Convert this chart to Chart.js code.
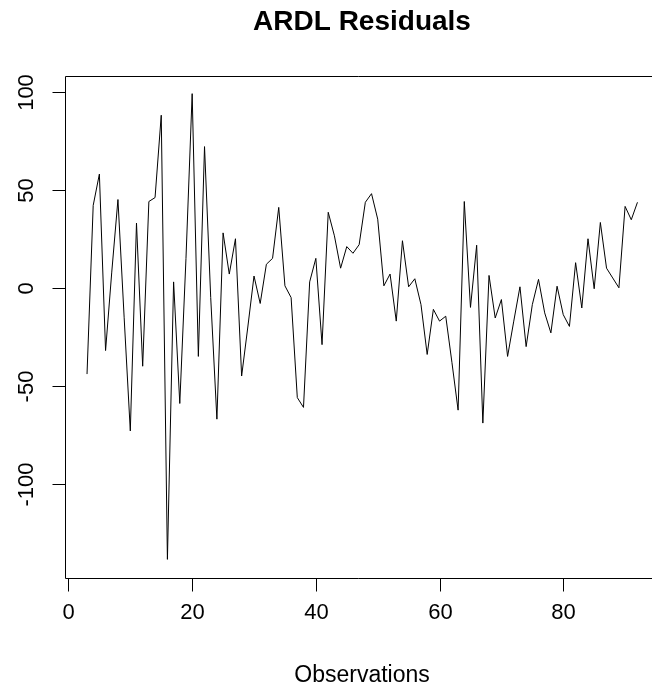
<!DOCTYPE html>
<html>
<head>
<meta charset="utf-8">
<script src="https://cdn.jsdelivr.net/npm/chart.js@4.4.0/dist/chart.umd.min.js"></script>
<style>
html, body { margin: 0; padding: 0; background: #fff; overflow: hidden; }
canvas { display: block; }
</style>
</head>
<body>
<canvas id="residChart" width="652" height="693"></canvas>
<script>
const observations = [
  3, 4, 5, 6, 7, 8, 9, 10, 11, 12, 13, 14, 15, 16, 17, 18, 19, 20, 21, 22,
  23, 24, 25, 26, 27, 28, 29, 30, 31, 32, 33, 34, 35, 36, 37, 38, 39, 40, 41, 42,
  43, 44, 45, 46, 47, 48, 49, 50, 51, 52, 53, 54, 55, 56, 57, 58, 59, 60, 61, 62,
  63, 64, 65, 66, 67, 68, 69, 70, 71, 72, 73, 74, 75, 76, 77, 78, 79, 80, 81, 82,
  83, 84, 85, 86, 87, 88, 89, 90, 91, 92
];
const residuals = [
  -44, 42, 58, -32, 8, 45, -15, -73, 33, -40, 44, 46, 88, -138.5, 3, -59, 15, 99, -35, 72,
  -5, -67, 28, 7, 25, -45, -20, 6, -8, 12, 15, 41, 1, -5, -56, -61, 3, 15, -29, 38.5,
  26.5, 10, 21, 17.6, 22, 43.6, 48, 35, 1, 7, -17, 24, 0.5, 4.6, -8.6, -34, -11, -17, -14.5, -38,
  -62.4, 44, -10, 21.7, -69, 6.3, -15.4, -6, -35, -17, 0.5, -30, -8.6, 4.3, -12.8, -23, 0.8, -13.7, -19.7, 12.8,
  -10.3, 25, -0.5, 33.3, 10, 5, 0, 41.5, 34.7, 43.6
];
const xTicks = [0, 20, 40, 60, 80];
const yTicks = [100, 50, 0, -50, -100];
const chartTitle = "ARDL Residuals";
const xAxisTitle = "Observations";

const fontFam = '"Liberation Sans", Arial, sans-serif';

// R-style frame, detached ticks and rotated y labels
const rAxes = {
  id: 'rAxes',
  afterDraw(chart) {
    const ctx = chart.ctx;
    const a = chart.chartArea;
    const xs = chart.scales.x, ys = chart.scales.y;
    const left = Math.round(a.left) + 0.5;
    const top = Math.round(a.top) + 0.5;
    const bottom = Math.round(a.bottom) + 0.5;
    const tick = 13;

    ctx.save();
    ctx.strokeStyle = '#000';
    ctx.lineWidth = 1;

    // box, the right side runs off the canvas
    ctx.beginPath();
    ctx.moveTo(chart.width, top);
    ctx.lineTo(left, top);
    ctx.lineTo(left, bottom);
    ctx.lineTo(chart.width, bottom);
    ctx.stroke();

    ctx.fillStyle = '#000';
    ctx.font = '22px ' + fontFam;

    // x axis
    ctx.textAlign = 'center';
    ctx.textBaseline = 'middle';
    xTicks.forEach(v => {
      const px = Math.round(xs.getPixelForValue(v)) + 0.5;
      ctx.beginPath();
      ctx.moveTo(px, bottom);
      ctx.lineTo(px, bottom + tick);
      ctx.stroke();
      ctx.fillText(String(v), px, 613);
    });

    // y axis
    yTicks.forEach(v => {
      const py = Math.round(ys.getPixelForValue(v)) + 0.5;
      ctx.beginPath();
      ctx.moveTo(left - tick, py);
      ctx.lineTo(left, py);
      ctx.stroke();
      ctx.save();
      ctx.translate(27, py);
      ctx.rotate(-Math.PI / 2);
      ctx.fillText(String(v), 0, 0);
      ctx.restore();
    });

    ctx.font = '23px ' + fontFam;
    ctx.fillText(xAxisTitle, 362, 676);

    ctx.font = 'bold 28px ' + fontFam;
    ctx.fillText(chartTitle, 362, 22);
    ctx.restore();
  }
};

const ctxChart = document.getElementById('residChart').getContext('2d');

const residChart = new Chart(ctxChart, {
  type: 'line',
  data: {
    datasets: [{
      data: observations.map((o, i) => ({ x: o, y: residuals[i] })),
      borderColor: '#000',
      borderWidth: 1,
      pointRadius: 0,
      tension: 0,
      fill: false
    }]
  },
  options: {
    responsive: false,
    animation: false,
    layout: { padding: { left: 65, top: 76, right: 0, bottom: 115 } },
    scales: {
      x: { type: 'linear', min: -0.56, max: 94.35, display: false },
      y: { type: 'linear', min: -148, max: 108, display: false }
    },
    plugins: {
      legend: { display: false },
      tooltip: { enabled: false },
      title: { display: false }
    }
  },
  plugins: [rAxes]
});
</script>
</body>
</html>
